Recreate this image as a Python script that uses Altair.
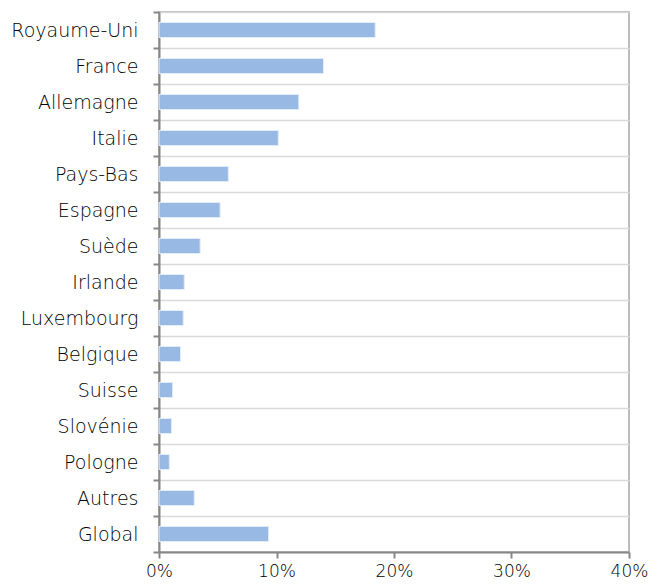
import altair as alt
import pandas as pd

countries = ["Royaume-Uni", "France", "Allemagne", "Italie", "Pays-Bas", "Espagne",
             "Suède", "Irlande", "Luxembourg", "Belgique", "Suisse", "Slovénie",
             "Pologne", "Autres", "Global"]
values = [0.184, 0.140, 0.119, 0.1015, 0.059, 0.052, 0.035, 0.0215, 0.0206,
          0.0183, 0.0116, 0.0107, 0.0088, 0.030, 0.0933]
x_ticks = [0, 0.1, 0.2, 0.3, 0.4]

df = pd.DataFrame({"pays": countries, "part": values})

FONT = "DejaVu Sans"

chart = alt.Chart(df).mark_bar(
    size=15, color="#98B9E3", stroke="#E3ECF8", strokeWidth=1
).encode(
    y=alt.Y("pays:N", sort=countries,
            scale=alt.Scale(paddingInner=0, paddingOuter=0),
            axis=alt.Axis(title=None, tickBand="extent", grid=True,
                          gridColor="#D9D9D9", gridWidth=1.5,
                          domainColor="#878787", domainWidth=2,
                          tickColor="#878787", tickWidth=2, tickSize=6,
                          labelFont=FONT, labelFontSize=19, labelFontWeight=200,
                          labelColor="#000000", labelPadding=15)),
    x=alt.X("part:Q",
            scale=alt.Scale(domain=[0, 0.4], nice=False),
            axis=alt.Axis(title=None, format=".0%", values=x_ticks, grid=False,
                          labelFlush=False,
                          domainColor="#878787", domainWidth=2,
                          tickColor="#878787", tickWidth=2, tickSize=6,
                          labelFont=FONT, labelFontSize=17, labelFontWeight=200,
                          labelColor="#000000", labelPadding=5)),
).properties(
    width=470, height=540,
    autosize=alt.AutoSizeParams(type="none"),
    padding={"left": 151, "top": 4, "right": 21, "bottom": 31},
).configure_view(
    stroke="#A6A6A6", strokeWidth=1.5
)

chart.save("out.html", embed_options={"renderer": "svg", "actions": False})
